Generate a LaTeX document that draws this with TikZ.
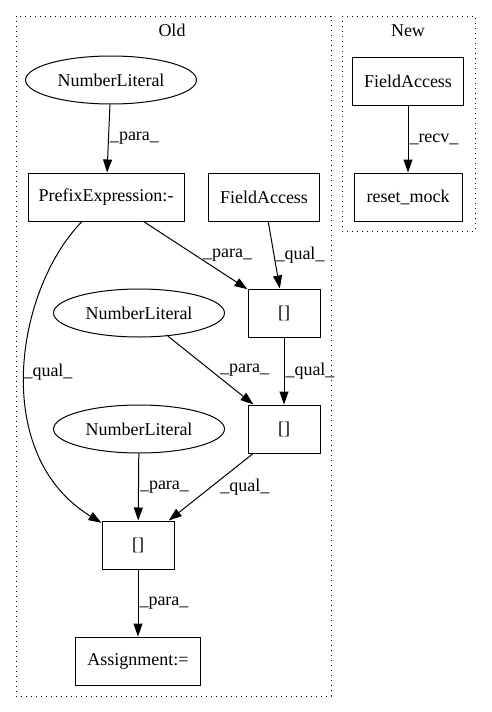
\documentclass[tikz,border=0pt]{standalone}
\usepackage{fontspec}
\setmainfont{Liberation Serif}
\usetikzlibrary{arrows.meta, shapes.geometric}

\begin{document}
\begin{tikzpicture}[x=1pt, y=-1pt, line width=1pt,
	font=\fontsize{18}{20}\selectfont,
	box/.style={draw, rectangle, minimum height=48pt, inner sep=0pt},
	lit/.style={draw, ellipse, minimum width=171pt, minimum height=48pt, inner sep=0pt},
	edge/.style={-{Triangle[length=13pt,width=9pt]}},
	lbl/.style={right, inner sep=1pt},
	clus/.style={draw, dash pattern=on 1.2pt off 3.8pt}]
	\useasboundingbox (0,0) rectangle (491,712);
	% clusters
	\draw[clus] (16,16) rectangle (331,696);
	\draw[clus] (342,16) rectangle (475,231);
	\node (tOld) at (172,30) {Old};
	\node (tNew) at (408,31) {New};
	% Old
	\node[lit] (N1) at (111,80) {NumberLiteral};
	\node[box, minimum width=156pt] (P) at (106,197) {PrefixExpression:-};
	\node[box, minimum width=111pt] (F1) at (264,197) {FieldAccess};
	\node[box, minimum width=72pt] (C1) at (284,313) {[]};
	\node[lit] (N2) at (139,313) {NumberLiteral};
	\node[box, minimum width=72pt] (C2) at (284,429) {[]};
	\node[lit] (N3) at (139,429) {NumberLiteral};
	\node[box, minimum width=72pt] (C3) at (138,545) {[]};
	\node[box, minimum width=125pt] (A) at (138,661) {Assignment:=};
	% New
	\node[box, minimum width=111pt] (F2) at (408,81) {FieldAccess};
	\node[box, minimum width=108pt] (R) at (408,197) {reset\_mock};
	\foreach \a/\b/\t/\s in {N1/P/para/0, P/C1/para/6, F1/C1/qual/0, C1/C2/qual/0,
		N2/C2/para/8, N3/C3/para/0, C2/C3/qual/8, C3/A/para/0, F2/R/recv/0} {
		\draw[edge] (\a) -- node[lbl, xshift=\s] {\_\t\_} (\b);
	}
	\draw[edge] (P) .. controls (15,290) and (-10,455) .. (C3);
	\node[lbl] (qc) at (22,372) {\_qual\_};
\end{tikzpicture}
\end{document}
